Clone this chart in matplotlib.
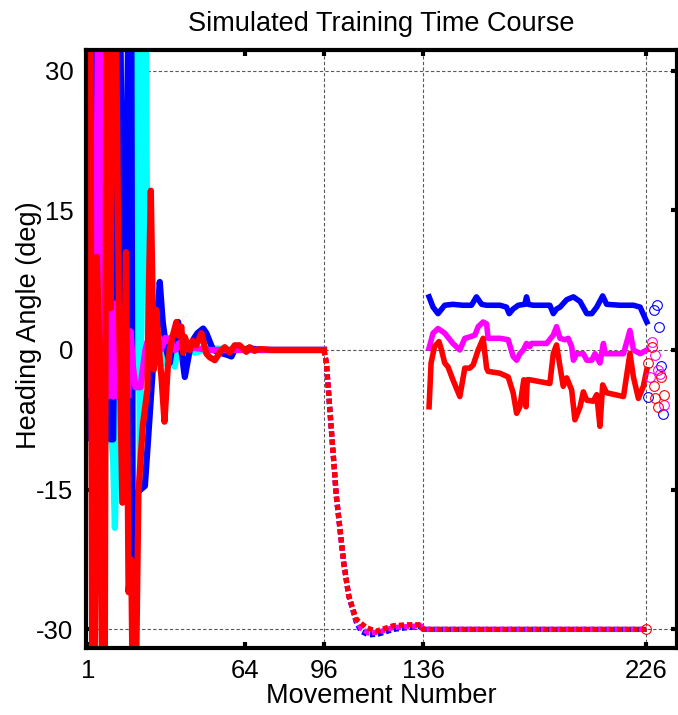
import numpy as np
import matplotlib.pyplot as plt

plt.rcParams['font.family'] = ['Liberation Sans', 'DejaVu Sans']
plt.rcParams['axes.unicode_minus'] = False

# ---- phase 1: baseline (movements 1-96), solid lines ----
blue_b_x = [1, 2, 3, 4, 5, 6, 7, 8, 9, 10, 11, 12, 13, 13.8, 15, 16, 17.3, 18.3, 19, 19.8,
            20.5, 22, 23.8, 25, 26, 27, 28, 29, 29.8, 31, 32.5, 33.8, 35, 37.2, 38.5, 39.9,
            41.9, 43.5, 45, 47.3, 48.6, 51.3, 54, 56.7, 58.7, 60.7, 63, 66, 70, 96]
blue_b_y = [8, -9.6, 20, 40, 40, 5, 10, 30, 5, -9.6, -9.6, 15, 40, 40, 0, 10, 40, 40, -40, -40,
            -15.4, -15, -14.6, -10, -6, -2, 1, 4, 7.3, 3, 0, -1.4, 0.5, 3.0, 0, -2.9,
            0, 1.2, 1.8, 2.3, 1.8, 0, -0.3, -0.5, -0.7, 0.4, 0, 0.2, 0, 0]

cyan_b_x = [1, 2, 3, 4, 5, 6, 7, 8, 9, 10, 11, 11.7, 12.5, 13, 14, 15, 16, 17, 18, 19,
            20, 21, 22, 23, 24, 25, 26, 27, 28, 29, 30, 31, 32, 33, 34, 35.8, 37, 38, 40, 44, 50, 60, 96]
cyan_b_y = [30, 5, -30, 10, 25, -20, 25, -10, 20, -8, -12, -19.1, -10, 5, -5, 8, -10, 5, -5, -16,
            40, 40, -12, 40, 40, 2, -3, 2, 5, 3, 0, -1.5, 0, 1, 0, -1.8, 0, 1, 0.3, -0.3, 0.2, 0, 0]

mag_b_x = [1, 2, 3, 4, 5, 6, 7, 8, 9, 10, 11, 12, 13, 14, 15, 16, 17, 18, 19, 20,
           21, 22, 23, 24, 25, 26, 27, 28, 29, 30, 31, 32, 33, 34, 35, 36, 37, 38, 39, 40, 44, 50, 60, 96]
mag_b_y = [10, -5, 15, 5, 40, 40, -13, 5, -5, 5, -5, 5, -5, 3, -3, 0, -5, 2, -1.8, -4,
           -4, -4, -2, 0, 1, -1, 1, 1.3, 0.5, 0, 0.5, 1.3, 1, 1.3, 0.5, 0, 0.3, 0.8, 0.5, 0.1, 0.2, 0, 0, 0]

red_b_x = [1, 1.8, 2.6, 3.6, 4.4, 5.5, 6.8, 7.6, 8.3, 9.5, 10, 10.8, 12, 13.3, 14.7, 16.2, 17.2,
           18.3, 19, 20, 21.2, 22, 23, 24.8, 25.5, 26.2, 27.4, 28.4, 29.5, 30.5, 31.7, 33, 33.8,
           35, 36.5, 37.5, 38.5, 39.2, 39.9, 41, 41.9, 43, 44.5, 46.6, 48.6, 50, 52, 54.7, 56,
           58, 60, 62, 64.7, 66, 68, 70, 75, 96]
red_b_y = [40, 40, -40, -40, 10, 0, -40, -40, 40, 40, 4.5, 40, 40, 5, -16.4, 10.5, -26,
           -22.5, -40, -40, -15.4, -12, -8, -4.3, 8, 17.1, -2.1, 4.3, 0, -3, -7.7, -2, 0,
           1.5, 3.0, 1.5, 2.5, -0.3, 1.4, 0.5, 0, 1, 0.5, 1.8, -0.4, -0.8, -1.1, 0, 0.3,
           -0.3, 0.5, 0.5, -0.2, 0.3, -0.1, 0.1, 0, 0]

# ---- phase 2/3: rotation (96-136) and exposure (136-226), dotted ----
blue_r_x = [96, 97, 98, 99, 100, 101, 102.5, 104, 106, 109, 111, 114, 118, 124, 130, 135, 136, 226]
blue_r_y = [0, -1.4, -5, -8.6, -12.1, -15.7, -19.3, -22.9, -26.4, -29.2, -30.2, -30.6, -30.5, -30.0, -29.8, -29.7, -30, -30]

mag_r_x = [96, 97, 98, 99, 100, 101, 102.5, 104, 106, 109, 111, 114, 118, 124, 130, 135, 136, 226]
mag_r_y = [0, -1.4, -5, -8.6, -12.1, -15.7, -19.3, -22.9, -26.4, -29.0, -29.9, -30.4, -30.3, -29.8, -29.7, -29.6, -30, -30]

red_r_x = [96, 97, 98, 99, 100, 101, 102.5, 104, 106, 109, 113, 117, 124, 130, 135, 136, 226]
red_r_y = [0, -1.4, -5, -8.6, -12.1, -15.7, -19.3, -22.9, -26.4, -28.9, -29.8, -30.2, -29.6, -29.5, -29.5, -30, -30]

# ---- phase 3: solid lines 138-226 ----
blue_e_x = [138.4, 140, 142, 144.7, 148, 152, 155.5, 157.5, 159.6, 161.6, 167, 169.6, 170.7, 172.3,
            174.4, 177, 177.7, 178.4, 180.4, 185.8, 187.1, 188.5, 189.8, 191.2, 193.9, 196.6, 199.3,
            202, 204, 206, 208.4, 210, 215.4, 220.8, 223.5, 226.2]
blue_e_y = [5.7, 4.6, 3.9, 4.8, 4.9, 4.8, 4.8, 5.7, 4.9, 4.8, 4.8, 4.6, 3.9, 4.4,
            4.8, 4.9, 5.7, 4.9, 4.8, 4.8, 4.8, 3.9, 4.4, 4.6, 5.4, 5.7, 5.2,
            3.9, 3.9, 4.6, 5.8, 4.9, 4.8, 4.8, 4.6, 3.0]

mag_e_x = [138.4, 140, 142, 144.7, 148, 150.8, 152.8, 154.8, 156.9, 158.2, 160.2, 161.6, 162.2, 167,
           170.3, 172.3, 173.7, 175, 176.4, 177.7, 179, 179.7, 185.8, 188.5, 189.8, 191.2, 193.2,
           194.5, 195.9, 196.6, 197.9, 200.6, 202, 204, 205.3, 206.7, 207.3, 208.7, 209.4, 216.8,
           219.4, 220.8, 223.5, 226.2]
mag_e_y = [0.2, 1.8, 2.3, 1.8, 0.7, 0, 1.25, 1.4, 1.6, 2.5, 3.0, 2.8, 1.25, 1.25,
           1.1, -0.7, -1.1, -0.4, 0, 0.7, 0.36, 0.7, 0.7, 1.6, 2.5, 1.25, 1.1,
           1.25, 0.36, -1.1, -0.4, -0.4, -1.1, -1.1, -0.4, -1.1, -1.4, 0.7, -0.4, -0.4,
           2.1, 0, -0.4, 0]

red_e_x = [138.4, 139.2, 140.6, 142.4, 143.4, 144.7, 146, 148, 150.8, 152.8, 154.8, 156.2, 158.2,
           160.2, 161.6, 162.2, 167, 170.3, 172.3, 173.7, 175, 176.6, 177.5, 178, 179, 187.1,
           188.5, 189.8, 191.2, 192.5, 193.9, 195.9, 197.2, 199.3, 200.6, 202, 204.6, 206, 207.3,
           208.4, 210, 216.8, 219.4, 220.8, 222.8, 224.8, 226.2]
red_e_y = [-6.1, -1.4, 0.36, 0.9, 0, -1.4, -1.8, -3.2, -5.0, -1.95, -1.95, -1.6, 0,
           1.25, -1.95, -2.3, -2.5, -2.9, -4.6, -6.8, -6.1, -3.2, -6.1, -3.2, -3.2, -3.6,
           -0.36, 0.54, -1.8, -3.9, -3.0, -4.3, -7.5, -6.1, -4.5, -5.4, -5.5, -4.8, -8.2,
           -3.75, -4.6, -5.0, -0.36, -2.9, -5.2, -3.9, -2.1]

# ---- post-test circles ----
blue_c_x = [230.2, 229.1, 231.1, 231.8, 226.8, 232.9]
blue_c_y = [4.8, 4.3, 2.5, -1.7, -5.0, -6.9]
mag_c_x = [228.1, 229.5, 230.8, 227.3, 231.5, 233.2]
mag_c_y = [0.9, -0.5, -2.1, -2.9, -2.6, -5.9]
red_c_x = [228.4, 226.8, 231.8, 229.1, 233.2, 229.7, 230.8, 226]
red_c_y = [0.36, -1.4, -2.9, -3.9, -4.8, -5.2, -6.1, -30]

x_ticks = [1, 64, 96, 136, 226]
y_ticks = [-30, -15, 0, 15, 30]
vlines = [96, 136, 226]
hlines = [-30, 0, 30]

fig = plt.figure(figsize=(6.78, 7.15), dpi=100)
ax = fig.add_axes([0.127, 0.0937, 0.872, 0.8363])

for v in vlines:
    ax.axvline(v, color='0.35', lw=0.8, ls=(0, (3, 2)), zorder=1)
for h in hlines:
    ax.axhline(h, color='0.35', lw=0.8, ls=(0, (3, 2)), zorder=1)

lw = 4.5
ax.plot(cyan_b_x, cyan_b_y, color='#00ffff', lw=lw, zorder=2)
ax.plot(blue_b_x, blue_b_y, color='#0000ff', lw=lw, zorder=3)
ax.plot(mag_b_x, mag_b_y, color='#ff00ff', lw=lw, zorder=4)
ax.plot(red_b_x, red_b_y, color='#ff0000', lw=lw, zorder=5)

dots = (0, (1, 0.55))
ax.plot(blue_r_x, blue_r_y, color='#0000ff', lw=3.8, ls=dots, zorder=2)
ax.plot(mag_r_x, mag_r_y, color='#ff00ff', lw=3.8, ls=dots, zorder=3)
ax.plot(red_r_x, red_r_y, color='#ff0000', lw=3.8, ls=dots, zorder=4)

lw2 = 4.0
ax.plot(blue_e_x, blue_e_y, color='#0000ff', lw=lw2, zorder=2)
ax.plot(mag_e_x, mag_e_y, color='#ff00ff', lw=lw2, zorder=3)
ax.plot(red_e_x, red_e_y, color='#ff0000', lw=lw2, zorder=4)

ax.plot(blue_c_x, blue_c_y, 'o', mfc='none', mec='#0000ff', ms=7, mew=0.8, zorder=6)
ax.plot(mag_c_x, mag_c_y, 'o', mfc='none', mec='#ff00ff', ms=7, mew=0.8, zorder=6)
ax.plot(red_c_x, red_c_y, 'o', mfc='none', mec='#ff0000', ms=7, mew=0.8, zorder=6)

ax.set_xlim(0.1, 238.5)
ax.set_ylim(-32, 32.2)
ax.set_xticks(x_ticks)
ax.set_yticks(y_ticks)
ax.tick_params(direction='in', length=4, width=3, top=True, right=True,
               labelsize=18.5, pad=9)
ax.tick_params(axis='x', pad=8)
for s in ax.spines.values():
    s.set_linewidth(3)
    s.set_zorder(10)

ax.set_title('Simulated Training Time Course', fontsize=19.5, pad=14)
ax.set_xlabel('Movement Number', fontsize=19.5, labelpad=0)
ax.set_ylabel('Heading Angle (deg)', fontsize=19.5, labelpad=6)
ax.yaxis.set_label_coords(-0.075, 0.54)

fig.savefig('out.png', dpi=100)
